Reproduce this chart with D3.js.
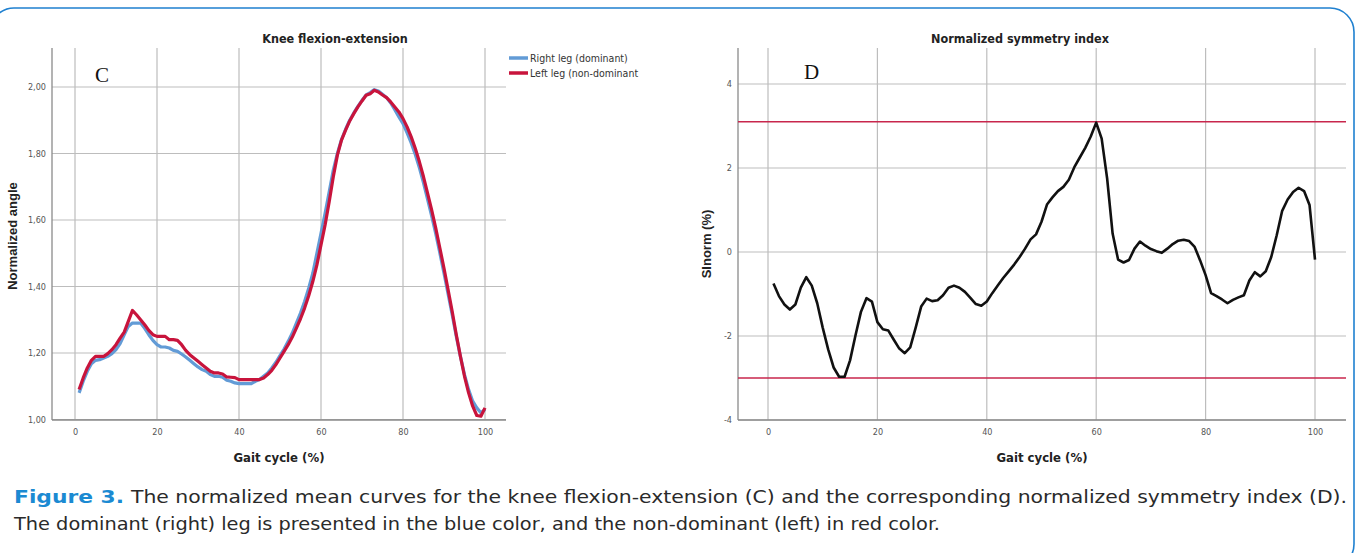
<!DOCTYPE html>
<html>
<head>
<meta charset="utf-8">
<script src="https://cdn.jsdelivr.net/npm/d3@7"></script>
<style>
  body { margin: 0; background: #fff; }
</style>
</head>
<body>
<svg width="1361" height="553"></svg>
<script>

// gait cycle positions (%)
var gait = d3.range(1, 101);

// knee flexion-extension, normalized mean curves
var rightLeg = [1.08,1.115,1.145,1.168,1.178,1.18,1.185,1.19,1.198,1.21,
  1.228,1.255,1.28,1.29,1.29,1.29,1.274,1.255,1.238,1.225,
  1.218,1.218,1.215,1.208,1.205,1.197,1.188,1.178,1.168,1.158,
  1.15,1.145,1.135,1.13,1.13,1.127,1.118,1.115,1.11,1.108,
  1.108,1.108,1.108,1.115,1.12,1.13,1.14,1.155,1.172,1.192,
  1.212,1.235,1.26,1.29,1.32,1.355,1.395,1.44,1.5,1.56,
  1.62,1.685,1.75,1.8,1.842,1.873,1.9,1.922,1.942,1.96,
  1.976,1.983,1.992,1.988,1.978,1.968,1.952,1.932,1.91,1.89,
  1.862,1.832,1.797,1.757,1.712,1.662,1.612,1.558,1.5,1.44,
  1.378,1.315,1.25,1.19,1.135,1.09,1.055,1.035,1.02,1.03];

var leftLeg = [1.09,1.125,1.155,1.178,1.19,1.19,1.19,1.198,1.21,1.225,
  1.245,1.263,1.295,1.328,1.315,1.3,1.285,1.268,1.255,1.25,
  1.25,1.25,1.24,1.24,1.238,1.225,1.208,1.195,1.185,1.175,
  1.165,1.155,1.145,1.14,1.14,1.137,1.128,1.127,1.126,1.12,
  1.12,1.12,1.12,1.12,1.12,1.125,1.135,1.148,1.165,1.185,
  1.205,1.225,1.248,1.275,1.303,1.335,1.372,1.415,1.465,1.525,
  1.585,1.655,1.73,1.795,1.84,1.87,1.898,1.92,1.94,1.958,
  1.975,1.98,1.99,1.985,1.976,1.968,1.955,1.94,1.925,1.905,
  1.88,1.85,1.815,1.775,1.73,1.68,1.63,1.575,1.515,1.455,
  1.39,1.325,1.255,1.19,1.13,1.08,1.04,1.012,1.01,1.035];

// normalized symmetry index (%)
var siNorm = [-0.75,-1.05,-1.25,-1.37,-1.25,-0.85,-0.6,-0.8,-1.22,-1.8,
  -2.32,-2.75,-2.97,-2.97,-2.58,-1.98,-1.42,-1.1,-1.18,-1.67,
  -1.84,-1.87,-2.09,-2.3,-2.41,-2.27,-1.8,-1.3,-1.11,-1.17,
  -1.15,-1.03,-0.85,-0.8,-0.85,-0.95,-1.09,-1.24,-1.28,-1.18,
  -0.98,-0.8,-0.62,-0.46,-0.3,-0.12,0.08,0.3,0.42,0.72,
  1.13,1.3,1.45,1.55,1.72,2.02,2.25,2.48,2.75,3.08,
  2.7,1.75,0.44,-0.18,-0.25,-0.19,0.08,0.25,0.15,0.07,
  0.02,-0.02,0.08,0.19,0.27,0.29,0.26,0.12,-0.2,-0.55,
  -0.98,-1.05,-1.13,-1.22,-1.14,-1.08,-1.03,-0.68,-0.48,-0.58,
  -0.46,-0.12,0.4,0.98,1.25,1.43,1.53,1.45,1.12,-0.18];

var siLimits = [3.1, -3.0];

var xTicks = [0, 20, 40, 60, 80, 100];
var angleTicks = [1.0, 1.2, 1.4, 1.6, 1.8, 2.0];
var siTicks = [-4, -2, 0, 2, 4];

var legendNames = ['Right leg (dominant)', 'Left leg (non-dominant'];
var legendColors = ['#629bd6', '#c8143c'];

var narrow = '"Liberation Sans Narrow","DejaVu Sans Condensed","Arial Narrow",sans-serif';
var comma = d3.formatLocale({decimal: ',', thousands: '.', grouping: [3], currency: ['', '']}).format('.2f');

var svg = d3.select('svg');

// rounded blue frame
svg.append('rect')
    .attr('x', -10).attr('y', 8)
    .attr('width', 1364).attr('height', 560)
    .attr('rx', 24)
    .attr('fill', 'none')
    .attr('stroke', '#1f80d0')
    .attr('stroke-width', 1.6);

function panel(o) {
    var g = svg.append('g');
    var x = d3.scaleLinear().domain([0, 100]).range([o.x0, o.x100]);
    var y = d3.scaleLinear().domain(o.yDomain).range(o.yRange);

    // grid
    g.selectAll('.hgrid')
        .data(o.yTicks)
        .enter()
        .append('line')
        .attr('x1', o.left).attr('x2', o.right)
        .attr('y1', function(d) { return y(d); })
        .attr('y2', function(d) { return y(d); })
        .attr('stroke', '#bdbdbd')
        .attr('stroke-width', 1.2);

    g.selectAll('.vgrid')
        .data(xTicks)
        .enter()
        .append('line')
        .attr('x1', function(d) { return x(d); })
        .attr('x2', function(d) { return x(d); })
        .attr('y1', o.top).attr('y2', o.bottom)
        .attr('stroke', '#bdbdbd')
        .attr('stroke-width', 1.2);

    // axis lines
    g.append('line')
        .attr('x1', o.left).attr('x2', o.right)
        .attr('y1', o.bottom).attr('y2', o.bottom)
        .attr('stroke', '#8a8a8a').attr('stroke-width', 1.3);
    g.append('line')
        .attr('x1', o.left).attr('x2', o.left)
        .attr('y1', o.top).attr('y2', o.bottom)
        .attr('stroke', '#8a8a8a').attr('stroke-width', 1.3);

    var xa = g.append('g')
        .attr('transform', 'translate(0,' + o.bottom + ')')
        .call(d3.axisBottom(x).tickValues(xTicks).tickSize(0).tickPadding(9));
    var ya = g.append('g')
        .attr('transform', 'translate(' + (o.left - 5) + ',0)')
        .call(d3.axisLeft(y).tickValues(o.yTicks).tickSize(0).tickPadding(1).tickFormat(o.fmt));
    [xa, ya].forEach(function(a) {
        a.select('.domain').remove();
        a.selectAll('text')
            .attr('font-family', narrow)
            .attr('font-size', 9)
            .attr('fill', '#555');
    });

    // titles
    g.append('text')
        .attr('x', o.titleX).attr('y', 43)
        .attr('text-anchor', 'middle')
        .attr('font-family', narrow).attr('font-size', 12.5).attr('font-weight', 'bold')
        .attr('fill', '#222')
        .text(o.title);

    g.append('text')
        .attr('x', (o.left + o.right) / 2).attr('y', 462)
        .attr('text-anchor', 'middle')
        .attr('font-family', narrow).attr('font-size', 13).attr('font-weight', 'bold')
        .attr('fill', '#222')
        .text('Gait cycle (%)');

    g.append('text')
        .attr('transform', 'translate(' + o.yLabelX + ',' + o.yLabelY + ') rotate(-90)')
        .attr('text-anchor', 'middle')
        .attr('font-family', '"Liberation Sans","DejaVu Sans",sans-serif')
        .attr('font-size', 13).attr('font-weight', 'bold')
        .attr('fill', '#222')
        .text(o.yLabel);

    g.append('text')
        .attr('x', o.letterX).attr('y', o.letterY)
        .attr('font-family', '"Liberation Serif","DejaVu Serif",serif')
        .attr('font-size', 21)
        .attr('fill', '#111')
        .text(o.letter);

    return {g: g, x: x, y: y};
}

// ---- C: knee flexion-extension ----
var pc = panel({
    left: 52, right: 506, top: 48, bottom: 420,
    x0: 75, x100: 485,
    yDomain: [1, 2], yRange: [419.5, 87],
    yTicks: angleTicks, fmt: comma,
    title: 'Knee flexion-extension', titleX: 335,
    yLabel: 'Normalized angle', yLabelX: 17, yLabelY: 236,
    letter: 'C', letterX: 95, letterY: 82
});

var lineC = d3.line()
    .x(function(d, i) { return pc.x(gait[i]); })
    .y(function(d) { return pc.y(d); });

pc.g.append('path')
    .datum(rightLeg)
    .attr('d', lineC)
    .attr('fill', 'none')
    .attr('stroke', legendColors[0])
    .attr('stroke-width', 3.2)
    .attr('stroke-linejoin', 'round');

pc.g.append('path')
    .datum(leftLeg)
    .attr('d', lineC)
    .attr('fill', 'none')
    .attr('stroke', legendColors[1])
    .attr('stroke-width', 3.2)
    .attr('stroke-linejoin', 'round');

var leg = svg.append('g').attr('transform', 'translate(509,58)');
leg.selectAll('line')
    .data(legendNames)
    .enter()
    .append('line')
    .attr('x1', 0).attr('x2', 19)
    .attr('y1', function(d, i) { return i * 15; })
    .attr('y2', function(d, i) { return i * 15; })
    .attr('stroke', function(d, i) { return legendColors[i]; })
    .attr('stroke-width', 3.5);
leg.selectAll('text')
    .data(legendNames)
    .enter()
    .append('text')
    .attr('x', 21)
    .attr('y', function(d, i) { return i * 15 + 4; })
    .attr('font-family', narrow).attr('font-size', 10.5)
    .attr('fill', '#333')
    .text(function(d) { return d; });

// ---- D: normalized symmetry index ----
var pd = panel({
    left: 738, right: 1346, top: 48, bottom: 420,
    x0: 768, x100: 1315,
    yDomain: [-4, 4], yRange: [420, 84],
    yTicks: siTicks, fmt: function(d) { return String(d); },
    title: 'Normalized symmetry index', titleX: 1020,
    yLabel: 'SInorm (%)', yLabelX: 711, yLabelY: 244,
    letter: 'D', letterX: 804, letterY: 79
});

pd.g.selectAll('.limit')
    .data(siLimits)
    .enter()
    .append('line')
    .attr('x1', 738).attr('x2', 1346)
    .attr('y1', function(d) { return pd.y(d); })
    .attr('y2', function(d) { return pd.y(d); })
    .attr('stroke', '#c8264c')
    .attr('stroke-width', 1.6);

pd.g.append('path')
    .datum(siNorm)
    .attr('d', d3.line()
        .x(function(d, i) { return pd.x(gait[i]); })
        .y(function(d) { return pd.y(d); }))
    .attr('fill', 'none')
    .attr('stroke', '#111')
    .attr('stroke-width', 2.6)
    .attr('stroke-linejoin', 'round');

// ---- caption ----
var capFont = '"Liberation Sans Narrow","DejaVu Sans Condensed",sans-serif';
svg.append('text')
    .attr('x', 14).attr('y', 503)
    .attr('font-family', capFont).attr('font-size', 17).attr('font-weight', 'bold')
    .attr('fill', '#1b8ad2')
    .attr('textLength', 110).attr('lengthAdjust', 'spacingAndGlyphs')
    .text('Figure 3.');
svg.append('text')
    .attr('x', 131).attr('y', 503)
    .attr('font-family', capFont).attr('font-size', 17)
    .attr('fill', '#2a2a2a')
    .attr('textLength', 1216).attr('lengthAdjust', 'spacingAndGlyphs')
    .text('The normalized mean curves for the knee flexion-extension (C) and the corresponding normalized symmetry index (D).');
svg.append('text')
    .attr('x', 14).attr('y', 530)
    .attr('font-family', capFont).attr('font-size', 17)
    .attr('fill', '#2a2a2a')
    .attr('textLength', 926).attr('lengthAdjust', 'spacingAndGlyphs')
    .text('The dominant (right) leg is presented in the blue color, and the non-dominant (left) in red color.');

</script>
</body>
</html>
